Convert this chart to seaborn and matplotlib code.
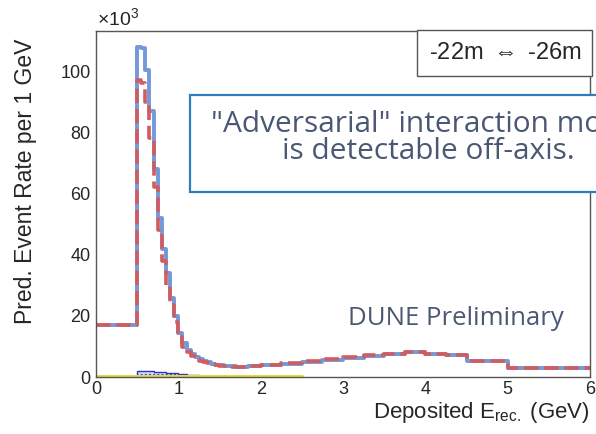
import numpy as np
import matplotlib
matplotlib.use('Agg')
import matplotlib.pyplot as plt
from matplotlib.ticker import MultipleLocator
from matplotlib.patches import Rectangle
import seaborn as sns

# Bin edges (GeV): one wide bin, fine 0.05 GeV bins to 2 GeV, 0.25 GeV bins to 4.5, then two wide bins
bin_edges = [0.0, 0.5,
             0.55, 0.6, 0.65, 0.7, 0.75, 0.8, 0.85, 0.9, 0.95, 1.0,
             1.05, 1.1, 1.15, 1.2, 1.25, 1.3, 1.35, 1.4, 1.45, 1.5,
             1.55, 1.6, 1.65, 1.7, 1.75, 1.8, 1.85, 1.9, 1.95, 2.0,
             2.25, 2.5, 2.75, 3.0, 3.25, 3.5, 3.75, 4.0, 4.25, 4.5,
             5.0, 6.0]

# Predicted event rate per 1 GeV (x10^3), nominal model (blue solid)
rate_nominal = [17.0,
                108.0, 107.5, 100.5, 87.0, 68.0, 52.0, 42.0, 34.0, 26.0, 20.0,
                14.5, 11.0, 8.8, 7.5, 6.5, 5.8, 5.2, 4.8, 4.4, 4.1,
                3.9, 3.7, 3.6, 3.5, 3.4, 3.4, 3.4, 3.5, 3.5, 3.6,
                3.9, 4.4, 5.1, 5.7, 6.3, 6.9, 7.5, 8.1, 7.6, 7.2,
                5.4, 2.9]

# "Adversarial" interaction model (red dashed)
rate_adversarial = [17.0,
                    97.0, 96.0, 90.0, 78.0, 62.0, 48.0, 38.0, 30.0, 23.5, 18.0,
                    13.2, 10.0, 8.1, 6.9, 6.0, 5.4, 4.9, 4.5, 4.2, 4.0,
                    3.8, 3.6, 3.5, 3.4, 3.4, 3.4, 3.4, 3.5, 3.5, 3.6,
                    4.1, 4.6, 5.3, 5.9, 6.5, 7.1, 7.7, 8.2, 7.7, 7.3,
                    5.4, 2.9]

# small hatched component (x10^3)
small_edges = [0.5, 0.55, 0.6, 0.65, 0.7, 0.75, 0.8, 0.85, 0.9, 0.95, 1.0,
               1.05, 1.1, 1.15, 1.2, 1.25, 1.3, 1.35, 1.4, 1.45, 1.5]
small_rate = [2.0, 2.1, 2.0, 1.9, 1.8, 1.7, 1.6, 1.5, 1.4, 1.3,
              1.1, 0.9, 0.8, 0.7, 0.6, 0.5, 0.4, 0.3, 0.2, 0.1]

# yellow component near zero
tiny_edges = [0.0, 0.5, 1.0, 1.5, 2.0, 2.5]
tiny_rate = [0.3, 0.3, 0.3, 0.3, 0.3]

blue = '#7399d8'
red = '#d15c5f'
note_color = '#4a5874'
box_color = '#2f7dbd'

sns.set_style('white')
plt.rcParams['font.family'] = ['Liberation Sans', 'DejaVu Sans']
plt.rcParams['mathtext.fontset'] = 'custom'
plt.rcParams['mathtext.rm'] = 'Liberation Sans'
plt.rcParams['mathtext.it'] = 'Liberation Sans'

fig = plt.figure(figsize=(5.96, 4.34), dpi=100)
ax = fig.add_axes([0.161, 0.131, 0.829, 0.797])


def centers(edges):
    e = np.asarray(edges)
    return (e[:-1] + e[1:]) / 2


sns.histplot(x=centers(tiny_edges), weights=tiny_rate, bins=tiny_edges,
             element='step', fill=False, color='#e6dc3c', linewidth=2.2, ax=ax)
sns.histplot(x=centers(small_edges), weights=small_rate, bins=small_edges,
             element='step', fill=True, facecolor=(0.35, 0.4, 1.0, 0.25),
             edgecolor='#2a35d0', hatch='....', linewidth=1.0, ax=ax)
sns.histplot(x=centers(bin_edges), weights=rate_nominal, bins=bin_edges,
             element='step', fill=False, color=blue, linewidth=2.8, ax=ax)
sns.histplot(x=centers(bin_edges), weights=rate_adversarial, bins=bin_edges,
             element='step', fill=False, color=red, linewidth=2.6,
             linestyle=(0, (4, 1.6)), ax=ax)

ax.set_xlim(0, 6)
ax.set_ylim(0, 113)
ax.xaxis.set_major_locator(MultipleLocator(1))
ax.xaxis.set_minor_locator(MultipleLocator(0.2))
ax.yaxis.set_major_locator(MultipleLocator(20))
ax.yaxis.set_minor_locator(MultipleLocator(5))
ax.tick_params(which='both', direction='in', color='#333333', labelsize=13,
               top=False, right=False)
ax.tick_params(which='major', length=9, width=1)
ax.tick_params(which='minor', length=4.5, width=1)
ax.tick_params(axis='y', pad=4)
ax.tick_params(axis='x', pad=3)
for s in ax.spines.values():
    s.set_color('#555555')
    s.set_linewidth(1.0)

# ROOT style: axis titles aligned to the end of the axis
ax.set_ylabel('Pred. Event Rate per 1 GeV', fontsize=16.5)
ax.yaxis.set_label_coords(-0.119, 0.98)
ax.yaxis.label.set_horizontalalignment('right')
ax.set_xlabel('Deposited E$_{\\rm rec.}$ (GeV)', fontsize=16)
ax.xaxis.set_label_coords(1.0, -0.065)
ax.xaxis.label.set_horizontalalignment('right')

fig.text(0.162, 0.934, '×10$^{3}$', fontsize=14, ha='left', va='bottom')

# label box at the top right
fig.add_artist(Rectangle((0.6997, 0.8249), 0.2936, 0.106, transform=fig.transFigure,
                         facecolor='white', edgecolor='#555555', linewidth=1.0))
fig.text(0.848, 0.878, '-22m $\\Leftrightarrow$ -26m', fontsize=17,
         ha='center', va='center')

# annotation box, running off the right edge as in the slide
fig.add_artist(Rectangle((0.3188, 0.5576), 0.9, 0.2235, transform=fig.transFigure,
                         facecolor='white', edgecolor=box_color, linewidth=1.6))
fig.text(0.718, 0.682, '"Adversarial" interaction model\nis detectable off-axis.',
         fontsize=21.5, family='Open Sans', color=note_color, ha='center', va='center',
         multialignment='center', linespacing=0.95)

fig.text(0.765, 0.267, 'DUNE Preliminary', fontsize=18.5, family='Open Sans',
         color=note_color, ha='center', va='center')

fig.savefig('out.png', dpi=100)
